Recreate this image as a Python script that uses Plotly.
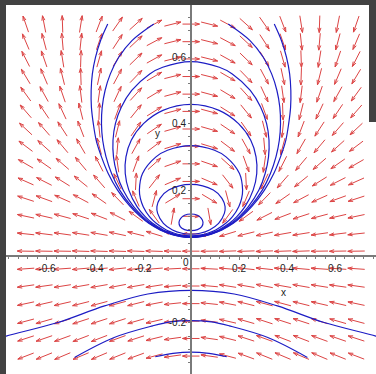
import numpy as np
import plotly.graph_objects as go

# ---- direction-field grid (arrow centres) ----
grid_x = [-0.6885, -0.612, -0.5355, -0.459, -0.3825, -0.306, -0.2295, -0.153, -0.0765, 0.0,
          0.0765, 0.153, 0.2295, 0.306, 0.3825, 0.459, 0.5355, 0.612, 0.6885]
grid_y = [0.700, 0.647, 0.595, 0.542, 0.489, 0.437, 0.384, 0.332, 0.279, 0.226,
          0.174, 0.121, 0.068, 0.016, -0.037, -0.089, -0.142, -0.195, -0.247, -0.300]

# arrow direction in degrees (counter-clockwise from +x), one row per grid_y value
arrow_deg = [
    [109, 101, 92, 81, 69, 55, 42, 28, 14, 0, -14, -28, -42, -55, -69, -81, -92, -101, -109],
    [113, 105, 95, 84, 71, 57, 43, 28, 14, 0, -14, -28, -43, -57, -71, -84, -95, -105, -113],
    [117, 109, 99, 88, 74, 59, 44, 29, 14, 0, -14, -29, -44, -59, -74, -88, -99, -109, -117],
    [121, 113, 104, 92, 78, 62, 46, 30, 14, 0, -14, -30, -46, -62, -78, -92, -104, -113, -121],
    [126, 119, 109, 97, 82, 65, 48, 31, 15, 0, -15, -31, -48, -65, -82, -97, -109, -119, -126],
    [131, 124, 115, 104, 88, 70, 51, 32, 15, 0, -15, -32, -51, -70, -88, -104, -115, -124, -131],
    [137, 131, 123, 111, 96, 76, 55, 34, 16, 0, -16, -34, -55, -76, -96, -111, -123, -131, -137],
    [143, 138, 130, 120, 105, 85, 61, 37, 17, 0, -17, -37, -61, -85, -105, -120, -130, -138, -143],
    [150, 145, 139, 130, 117, 98, 70, 42, 19, 0, -19, -42, -70, -98, -117, -130, -139, -145, -150],
    [156, 153, 148, 141, 131, 115, 87, 52, 23, 0, -23, -52, -87, -115, -131, -141, -148, -153, -156],
    [162, 160, 156, 152, 145, 134, 113, 75, 31, 0, -31, -75, -113, -134, -145, -152, -156, -160, -162],
    [168, 167, 165, 162, 159, 153, 144, 126, 80, 0, -80, -126, -144, -153, -159, -162, -165, -167, -168],
    [174, 173, 172, 171, 170, 168, 166, 163, 165, 180, -165, -163, -166, -168, -170, -171, -172, -173, -174],
    [179, 179, 179, 178, 178, 178, 178, 178, 179, 180, -179, -178, -178, -178, -178, -178, -179, -179, -179],
    [-176, -176, -176, -175, -175, -174, -174, -175, -177, 180, 177, 175, 174, 174, 175, 175, 176, 176, 176],
    [-172, -172, -171, -170, -170, -169, -170, -171, -175, 180, 175, 171, 170, 169, 170, 170, 171, 172, 172],
    [-168, -167, -167, -166, -165, -165, -166, -169, -174, 180, 174, 169, 166, 165, 165, 166, 167, 167, 168],
    [-165, -164, -163, -162, -162, -162, -164, -167, -173, 180, 173, 167, 164, 162, 162, 162, 163, 164, 165],
    [-162, -161, -160, -159, -159, -160, -162, -166, -172, 180, 172, 166, 162, 160, 159, 159, 160, 161, 162],
    [-159, -158, -157, -157, -157, -158, -160, -165, -172, 180, 172, 165, 160, 158, 157, 157, 157, 158, 159],
]

# ---- solution curves (x, y) ----
orbit_a_x = [0, 0.027, 0.043, 0.050, 0.045, 0.027, 0, -0.027, -0.045, -0.050, -0.043, -0.027, 0]
orbit_a_y = [0.128, 0.124, 0.115, 0.103, 0.090, 0.081, 0.078, 0.081, 0.090, 0.103, 0.115, 0.124, 0.128]

orbit_b_x = [0, 0.093, 0.129, 0.142, 0.139, 0.115, 0.077, 0.037, 0,
             -0.037, -0.077, -0.115, -0.139, -0.142, -0.129, -0.093, 0]
orbit_b_y = [0.217, 0.200, 0.175, 0.150, 0.130, 0.100, 0.080, 0.070, 0.067,
             0.070, 0.080, 0.100, 0.130, 0.150, 0.175, 0.200, 0.217]

orbit_c_x = [0, 0.098, 0.146, 0.202, 0.215, 0.211, 0.199, 0.173, 0.145, 0.103, 0.069, 0.043, 0,
             -0.043, -0.069, -0.103, -0.145, -0.173, -0.199, -0.211, -0.215, -0.202, -0.146, -0.098, 0]
orbit_c_y = [0.334, 0.320, 0.300, 0.250, 0.200, 0.175, 0.150, 0.120, 0.100, 0.080, 0.070, 0.065, 0.062,
             0.065, 0.070, 0.080, 0.100, 0.120, 0.150, 0.175, 0.200, 0.250, 0.300, 0.320, 0.334]

orbit_d_x = [0, 0.117, 0.198, 0.249, 0.271, 0.274, 0.259, 0.225, 0.191, 0.160, 0.115, 0.082, 0.059, 0,
             -0.059, -0.082, -0.115, -0.160, -0.191, -0.225, -0.259, -0.274, -0.271, -0.249, -0.198, -0.117, 0]
orbit_d_y = [0.458, 0.440, 0.400, 0.350, 0.300, 0.250, 0.200, 0.150, 0.120, 0.100, 0.080, 0.070, 0.065, 0.060,
             0.065, 0.070, 0.080, 0.100, 0.120, 0.150, 0.200, 0.250, 0.300, 0.350, 0.400, 0.440, 0.458]

orbit_e_x = [0, 0.118, 0.172, 0.247, 0.290, 0.315, 0.325, 0.323, 0.309, 0.283, 0.239, 0.201, 0.167,
             0.122, 0.089, 0.066, 0.029, 0,
             -0.029, -0.066, -0.089, -0.122, -0.167, -0.201, -0.239, -0.283, -0.309, -0.323, -0.325,
             -0.315, -0.290, -0.247, -0.172, -0.118, 0]
orbit_e_y = [0.587, 0.570, 0.550, 0.500, 0.450, 0.400, 0.350, 0.300, 0.250, 0.200, 0.150, 0.120, 0.100,
             0.080, 0.070, 0.065, 0.060, 0.059,
             0.060, 0.065, 0.070, 0.080, 0.100, 0.120, 0.150, 0.200, 0.250, 0.300, 0.350,
             0.400, 0.450, 0.500, 0.550, 0.570, 0.587]

orbit_f_x = [-0.155, -0.246, -0.301, -0.336, -0.358, -0.370, -0.373, -0.368, -0.354, -0.331, -0.297,
             -0.247, -0.207, -0.173, -0.126, -0.093, -0.071, -0.036, 0,
             0.036, 0.071, 0.093, 0.126, 0.173, 0.207, 0.247, 0.297, 0.331, 0.354, 0.368, 0.373,
             0.370, 0.358, 0.336, 0.301, 0.246, 0.155]
orbit_f_y = [0.700, 0.650, 0.600, 0.550, 0.500, 0.450, 0.400, 0.350, 0.300, 0.250, 0.200,
             0.150, 0.120, 0.100, 0.080, 0.070, 0.065, 0.060, 0.058,
             0.060, 0.065, 0.070, 0.080, 0.100, 0.120, 0.150, 0.200, 0.250, 0.300, 0.350, 0.400,
             0.450, 0.500, 0.550, 0.600, 0.650, 0.700]

orbit_g_x = [-0.347, -0.377, -0.398, -0.411, -0.416, -0.415, -0.407, -0.395, -0.373, -0.345, -0.306,
             -0.253, -0.211, -0.176, -0.129, -0.096, -0.074, -0.042, 0,
             0.042, 0.074, 0.096, 0.129, 0.176, 0.211, 0.253, 0.306, 0.345, 0.373, 0.395, 0.407,
             0.415, 0.416, 0.411, 0.398, 0.377, 0.347]
orbit_g_y = [0.700, 0.650, 0.600, 0.550, 0.500, 0.450, 0.400, 0.350, 0.300, 0.250, 0.200,
             0.150, 0.120, 0.100, 0.080, 0.070, 0.065, 0.060, 0.0575,
             0.060, 0.065, 0.070, 0.080, 0.100, 0.120, 0.150, 0.200, 0.250, 0.300, 0.350, 0.400,
             0.450, 0.500, 0.550, 0.600, 0.650, 0.700]

arch_h_x = [-0.80, -0.77, -0.555, -0.36, -0.18, 0, 0.18, 0.36, 0.555, 0.77, 0.80]
arch_h_y = [-0.248, -0.240, -0.199, -0.149, -0.113, -0.102, -0.113, -0.149, -0.199, -0.240, -0.248]

arch_i_x = [-0.485, -0.32, -0.16, -0.085, 0, 0.085, 0.16, 0.32, 0.485]
arch_i_y = [-0.304, -0.244, -0.209, -0.197, -0.193, -0.197, -0.209, -0.244, -0.304]

arch_j_x = [-0.149, -0.075, 0, 0.075, 0.149]
arch_j_y = [-0.302, -0.292, -0.288, -0.292, -0.302]

curves = [
    (orbit_a_x, orbit_a_y), (orbit_b_x, orbit_b_y), (orbit_c_x, orbit_c_y),
    (orbit_d_x, orbit_d_y), (orbit_e_x, orbit_e_y), (orbit_f_x, orbit_f_y),
    (orbit_g_x, orbit_g_y), (arch_h_x, arch_h_y), (arch_i_x, arch_i_y), (arch_j_x, arch_j_y),
]

# ---- axes ----
x_tick_vals = [-0.6, -0.4, -0.2, 0, 0.2, 0.4, 0.6]
x_tick_text = ["-0.6", "-0.4", "-0.2", "", "0.2", "0.4", "0.6"]
y_tick_vals = [-0.2, 0.2, 0.4, 0.6]
y_tick_text = ["-0.2", "0.2", "0.4", "0.6"]
origin_label = "0"

# ---- figure geometry ----
W, H = 376, 374
M_L, M_R, M_T, M_B = 6, 0, 5, 0
X_RANGE = [-0.7708, 0.7708]
Y_RANGE = [-0.354, 0.7575]
plot_w = W - M_L - M_R
plot_h = H - M_T - M_B
px_x = plot_w / (X_RANGE[1] - X_RANGE[0])   # pixels per x unit
px_y = plot_h / (Y_RANGE[1] - Y_RANGE[0])   # pixels per y unit

ARROW_PX = 17.0
HEAD_PX = 5.0
HEAD_ANG = np.radians(18)

ax_, ay_ = [], []
for j, yc in enumerate(grid_y):
    for i, xc in enumerate(grid_x):
        th = np.radians(arrow_deg[j][i])
        cx, cy = np.cos(th), np.sin(th)
        h = ARROW_PX / 2
        x0, y0 = xc - cx * h / px_x, yc - cy * h / px_y
        x1, y1 = xc + cx * h / px_x, yc + cy * h / px_y
        ax_ += [x0, x1, None]
        ay_ += [y0, y1, None]
        for s in (1, -1):
            a = th + np.pi + s * HEAD_ANG
            ax_ += [x1, x1 + np.cos(a) * HEAD_PX / px_x, None]
            ay_ += [y1, y1 + np.sin(a) * HEAD_PX / px_y, None]

fig = go.Figure()
fig.add_trace(go.Scatter(x=ax_, y=ay_, mode="lines", hoverinfo="skip",
                         line=dict(color="#dc4444", width=1)))
for cxs, cys in curves:
    fig.add_trace(go.Scatter(x=cxs, y=cys, mode="lines", hoverinfo="skip",
                             line=dict(color="#1c1cc4", width=1.2, shape="spline", smoothing=1.0)))

y0_frac = (0 - Y_RANGE[0]) / (Y_RANGE[1] - Y_RANGE[0])
x0_frac = (0 - X_RANGE[0]) / (X_RANGE[1] - X_RANGE[0])
tick_font = dict(family="Liberation Sans, Arial, sans-serif", size=10, color="#222222")
axis_grey = "#7a7a7a"

fig.update_layout(
    width=W, height=H, margin=dict(l=M_L, r=M_R, t=M_T, b=M_B),
    paper_bgcolor="#424242", plot_bgcolor="white", showlegend=False,
    xaxis=dict(range=X_RANGE, anchor="free", position=y0_frac, showgrid=False, zeroline=False,
               showline=True, linecolor=axis_grey, linewidth=2,
               tickvals=x_tick_vals, ticktext=x_tick_text, ticks="outside", ticklen=3,
               tickcolor=axis_grey, tickfont=tick_font,
               minor=dict(dtick=0.04, tick0=0, ticks="outside", ticklen=2, tickcolor=axis_grey)),
    yaxis=dict(range=Y_RANGE, anchor="free", position=x0_frac, showgrid=False, zeroline=False,
               showline=True, linecolor=axis_grey, linewidth=2,
               tickvals=y_tick_vals, ticktext=y_tick_text, ticks="outside", ticklen=2,
               tickcolor=axis_grey, tickfont=tick_font,
               minor=dict(dtick=0.04, tick0=0, ticks="outside", ticklen=2, tickcolor=axis_grey)),
    annotations=[
        dict(x=-0.019, y=-0.017, text=origin_label, showarrow=False, font=tick_font),
        dict(x=0.385, y=-0.108, text="x", showarrow=False, font=tick_font),
        dict(x=-0.138, y=0.37, text="y", showarrow=False, font=tick_font),
    ],
    shapes=[
        # dark window edge along the upper right border
        dict(type="rect", xref="paper", yref="paper", x0=(369 - M_L) / plot_w, x1=1.01,
             y0=1 - (122 - M_T) / plot_h, y1=1.02, fillcolor="#424242", line=dict(width=0),
             layer="above"),
    ],
)

fig.write_html("out.html")
